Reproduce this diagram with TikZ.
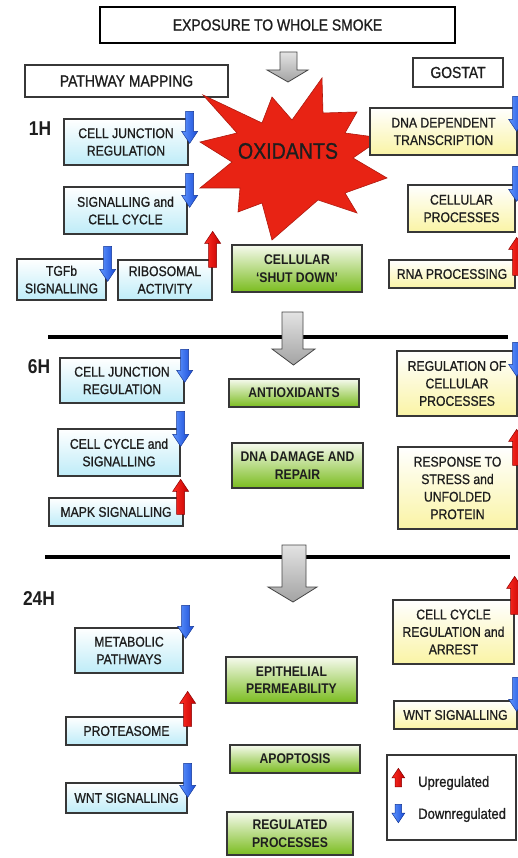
\documentclass[tikz,border=0pt]{standalone}
\usepackage{fontspec}
\setmainfont[FakeStretch=0.87]{Liberation Sans}
\newfontfamily\medfam[FakeStretch=0.87,FakeBold=0.9]{Liberation Sans}

% colours
\definecolor{txt}{RGB}{30,30,30}
\definecolor{boxline}{RGB}{55,55,55}
\definecolor{cyanfill}{RGB}{190,236,248}
\definecolor{yelfill}{RGB}{250,244,165}
\definecolor{grntop}{RGB}{246,250,238}
\definecolor{grnfill}{RGB}{122,188,30}
\definecolor{bluel}{RGB}{95,150,255}
\definecolor{blued}{RGB}{25,75,215}
\definecolor{redl}{RGB}{255,45,35}
\definecolor{redd}{RGB}{195,0,0}
\definecolor{starred}{RGB}{232,35,20}

\newcommand\bxfont{\medfam\fontsize{14}{17.5}\selectfont}
\newcommand\hdfont{\medfam\fontsize{16}{19}\selectfont}

\tikzset{
  wh/.style 2 args={minimum width=#1pt, minimum height=#2pt},
  box/.style={draw=boxline, line width=1.3pt, align=center, inner sep=0pt,
              font=\bxfont, text=txt},
  cyanbox/.style={box, top color=white, bottom color=cyanfill},
  yelbox/.style={box, top color=white, bottom color=yelfill},
  grnbox/.style={box, top color=grntop, bottom color=grnfill,
                 font=\rmfamily\fontsize{14}{17.5}\selectfont\bfseries},
  headbox/.style={box, fill=white, font=\hdfont},
  hour/.style={font=\fontsize{20}{22}\selectfont\bfseries, text=txt},
  rule/.style={line width=4pt, black},
  flow/.style={top color=gray!22, bottom color=gray!72, draw=gray!55!black, line width=0.8pt},
  bluefill/.style={left color=bluel, right color=blued, draw=blued!70!black, line width=0.5pt},
  redfill/.style={left color=redl, right color=redd, draw=redd!70!black, line width=0.5pt},
  % regulation badges: origin at the top centre, #1 = total length
  dnarrow/.pic={\path[bluefill] (-4,0) -- (4,0) -- (4,#1-12) -- (8,#1-12)
                 -- (0,#1) -- (-8,#1-12) -- (-4,#1-12) -- cycle;},
  uparrow/.pic={\path[redfill] (0,0) -- (8,12) -- (4,12) -- (4,#1)
                 -- (-4,#1) -- (-4,12) -- (-8,12) -- cycle;},
}

\begin{document}
\begin{tikzpicture}[x=1pt,y=-1pt]
\useasboundingbox (0,0) rectangle (518,858);
\clip (0,0) rectangle (518,858);
\fill[white] (0,0) rectangle (518,858);

% ---------- header ----------
\node[headbox, line width=2.6pt, draw=black, wh={355}{36}] (expo) at (277.5,25) {EXPOSURE TO WHOLE SMOKE};
\node[headbox, wh={203}{32}] (path) at (126.5,81) {PATHWAY MAPPING};
\node[headbox, wh={90}{29}] (gostat) at (458,72.5) {GOSTAT};

% ---------- oxidant burst ----------
\path[fill=starred, draw=starred!75!black, line width=0.6pt]
  (203,95) -- (262,123) -- (272,97) -- (292,120) -- (322,78) -- (323,113)
  -- (357,112) -- (345,133) -- (382,138) -- (353,158) -- (387,178)
  -- (345,193) -- (357,213) -- (318,200) -- (272,240) -- (262,203)
  -- (238,212) -- (240,188) -- (200,188) -- (232,162) -- (200,142)
  -- (237,133) -- cycle;
\node[font=\medfam\fontsize{22.5}{24}\selectfont, text=txt] (ox) at (288,151) {OXIDANTS};

% flow arrow into the 1H block
\path[flow] (280,52) -- (297,52) -- (297,70) -- (308,70) -- (288,82)
  -- (267,70) -- (280,70) -- cycle;

% ---------- 1H ----------
\node[hour] (h1) at (40,129) {1H};
\node[cyanbox, wh={124}{46}] (cja) at (126,142) {CELL JUNCTION\\REGULATION};
\node[cyanbox, wh={123}{47}] (sca) at (125.5,210.5) {SIGNALLING and\\CELL CYCLE};
\node[cyanbox, wh={89}{41}] (tgf) at (61.5,279.5) {TGFb\\SIGNALLING};
\node[cyanbox, wh={94}{40}] (rib) at (165,280) {RIBOSOMAL\\ACTIVITY};
\node[grnbox, wh={130}{47}] (shut) at (297,268.5) {CELLULAR\\`SHUT DOWN'};
\node[yelbox, wh={147}{47}] (dna) at (443.5,131.5) {DNA DEPENDENT\\TRANSCRIPTION};
\node[yelbox, wh={107}{47}] (cp) at (461.5,208.5) {CELLULAR\\PROCESSES};
\node[yelbox, wh={126}{28}] (rna) at (452,274) {RNA PROCESSING};

\path (cja.north east) ++(1,-7) pic {dnarrow=32};
\path (sca.north east) ++(2,-13) pic {dnarrow=34};
\path (tgf.north east) ++(1,-12) pic {dnarrow=35};
\path (rib.north east) ++(0,-28) pic {uparrow=36};
\path (dna.north east) ++(-1,-11) pic {dnarrow=35};
\path (cp.north east) ++(1,-18) pic {dnarrow=35};
\path (rna.north east) ++(1,-22) pic {uparrow=38};

% ---------- 6H ----------
\draw[rule] (48,337) -- (508,337);
\path[flow] (282,312) -- (303,312) -- (303,349) -- (315,349) -- (293.5,365)
  -- (272,349) -- (282,349) -- cycle;

\node[hour] (h6) at (39,367) {6H};
\node[cyanbox, wh={124}{45}] (cjb) at (122,380.5) {CELL JUNCTION\\REGULATION};
\node[cyanbox, wh={122}{47}] (ccs) at (119,452.5) {CELL CYCLE and\\SIGNALLING};
\node[cyanbox, wh={134}{28}] (mapk) at (116,512) {MAPK SIGNALLING};
\node[grnbox, wh={130}{28}] (antiox) at (294,393) {ANTIOXIDANTS};
\node[grnbox, wh={131}{45}] (dnad) at (297.5,465.5) {DNA DAMAGE AND\\REPAIR};
\node[yelbox, wh={120}{65}] (regof) at (457,383.5) {REGULATION OF\\CELLULAR\\PROCESSES};
\node[yelbox, wh={119}{82}] (resp) at (457.5,488) {RESPONSE TO\\STRESS and\\UNFOLDED\\PROTEIN};

\path (cjb.north east) ++(0,-8) pic {dnarrow=33};
\path (ccs.north east) ++(0,-17) pic {dnarrow=35};
\path (mapk.north east) ++(-3,-18) pic {uparrow=35};
\path (regof.north east) ++(-1,-8) pic {dnarrow=34};
\path (resp.north east) ++(-1,-17) pic {uparrow=36};

% ---------- 24H ----------
\draw[rule] (45,557) -- (510,557);
\path[flow] (282,545) -- (306,545) -- (306,587) -- (317,587) -- (293,602)
  -- (268,587) -- (282,587) -- cycle;

\node[hour] (h24) at (39,599) {24H};
\node[cyanbox, wh={108}{45}] (met) at (129,650.5) {METABOLIC\\PATHWAYS};
\node[cyanbox, wh={121}{28}] (prot) at (126.5,731) {PROTEASOME};
\node[cyanbox, wh={121}{30}] (wntl) at (126.5,798) {WNT SIGNALLING};
\node[grnbox, wh={131}{46}] (epi) at (291.5,680) {EPITHELIAL\\PERMEABILITY};
\node[grnbox, wh={130}{28}] (apop) at (295,759) {APOPTOSIS};
\node[grnbox, wh={126}{43}] (regp) at (290,833.5) {REGULATED\\PROCESSES};
\node[yelbox, wh={121}{64}] (ccra) at (453.5,632) {CELL CYCLE\\REGULATION and\\ARREST};
\node[yelbox, wh={123}{28}] (wntr) at (455.5,715) {WNT SIGNALLING};

\path (met.north east) ++(2,-22) pic {dnarrow=33};
\path (prot.north east) ++(0,-25) pic {uparrow=35};
\path (wntl.north east) ++(0,-19) pic {dnarrow=34};
\path (ccra.north east) ++(0,-23) pic {uparrow=38};
\path (wntr.north east) ++(-1,-23) pic {dnarrow=34};

% ---------- legend ----------
\node[box, fill=white, wh={129}{85}] (legend) at (451.5,797.5) {};
\path (legend.north west) ++(12,14) pic[scale=0.8] {uparrow=23};
\path (legend.north west) ++(12,50) pic[scale=0.8] {dnarrow=23};
\node[anchor=west, font=\medfam\fontsize{15}{17}\selectfont, text=txt, inner sep=0pt] (up) at (418,783) {Upregulated};
\node[anchor=west, font=\medfam\fontsize{15}{17}\selectfont, text=txt, inner sep=0pt] (down) at (418,815) {Downregulated};
\end{tikzpicture}
\end{document}
